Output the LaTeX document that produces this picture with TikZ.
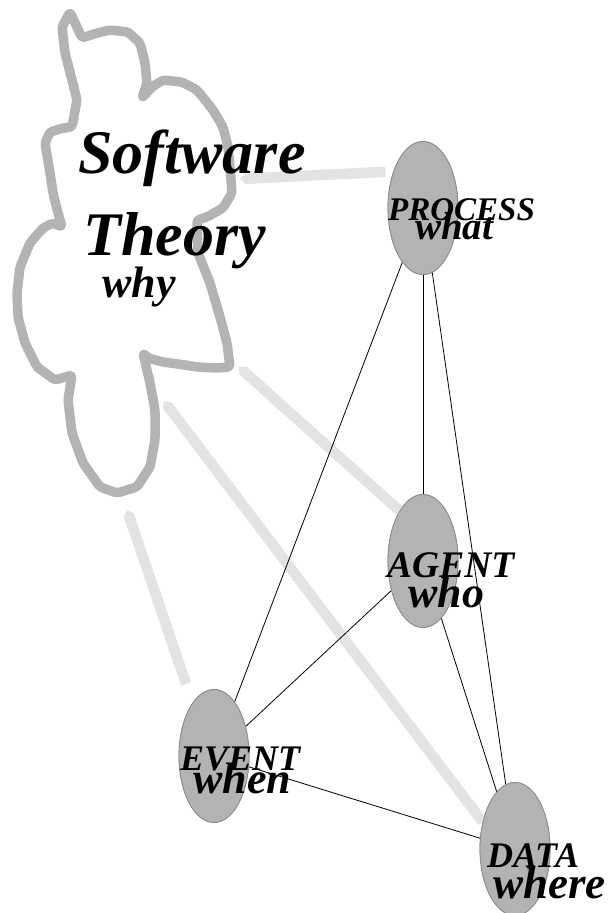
\documentclass[tikz,border=0pt]{standalone}
\usepackage{fontspec}
\setmainfont{Liberation Serif}
\usetikzlibrary{shapes.geometric,arrows.meta}
\definecolor{cloudgray}{HTML}{B3B3B3}
\definecolor{linkgray}{HTML}{E3E3E3}
\definecolor{ellfill}{HTML}{B3B3B3}
\definecolor{ellline}{HTML}{8C8C8C}
\tikzset{
  lbl/.style={inner sep=0pt, anchor=base west, font=\bfseries\itshape\fontsize{#1}{#1}\selectfont},
  ell/.style={ellipse, draw=ellline, line width=0.8pt, fill=ellfill, inner sep=0pt, minimum width=70pt, minimum height=133pt},
  link/.style={draw=black, line width=0.8pt},
  glink/.style={draw=linkgray, line width=10.5pt, {Triangle Cap[]}-},
  cloudline/.style={draw=cloudgray, line width=9.5pt, line join=round, rounded corners=3pt}
}
\begin{document}
\begin{tikzpicture}[x=1pt,y=-1pt]
\useasboundingbox (0,0) rectangle (609,913);
% ellipse nodes
\node[ell] (process) at (423,208) {};
\node[ell] (agent) at (423,561) {};
\node[ell] (event) at (214,756) {};
\node[ell] (data) at (515,849) {};
% cloud-side ends of gray links
\coordinate (g1) at (240,179);
\coordinate (g2) at (239,367);
\coordinate (g3) at (164,401);
\coordinate (g4) at (127,510);
% gray links
\draw[glink, shorten >=8pt] (g1) -- (process.129);
\draw[glink] (g2) -- (agent.115);
\draw[glink] (g3) -- (data.140);
\draw[glink, shorten >=20pt] (g4) -- (event.112);
% black links
\draw[link] (process) -- (event);
\draw[link] (process) -- (agent);
\draw[link] (process) -- (data);
\draw[link] (agent) -- (event);
\draw[link] (agent) -- (data);
\draw[link] (event) -- (data);
% redraw ellipses on top
\node[ell] at (423,208) {};
\node[ell] at (423,561) {};
\node[ell] at (214,756) {};
\node[ell] at (515,849) {};
% cloud
\draw[cloudline] (70,12) -- (82,38) -- (97,33) -- (110,30) -- (128,32) -- (140,43) -- (145,63) -- (147,83) -- (142,98)
  -- (152,87) -- (163,80) -- (182,82) -- (197,90) -- (213,110) -- (223,127) -- (228,147) -- (230,167) -- (232,193)
  -- (223,208) -- (207,217) -- (197,220) -- (198,253) -- (210,283) -- (220,317) -- (227,343) -- (230,367)
  -- (217,368) -- (197,367) -- (185,365) -- (163,362) -- (148,358) -- (143,353)
  -- (150,383) -- (155,410) -- (155,440) -- (150,467) -- (137,487) -- (117,493) -- (100,487) -- (83,463)
  -- (72,433) -- (68,400) -- (72,375)
  -- (55,380) -- (37,367) -- (25,343) -- (18,317) -- (17,293) -- (20,267) -- (30,243) -- (43,228) -- (53,223) -- (62,227)
  -- (58,213) -- (53,193) -- (50,173) -- (45,143) -- (50,132) -- (63,128) -- (72,127) -- (77,100) -- (72,80)
  -- (65,53) -- (62,27) -- cycle;
% cloud text
\node[lbl=62] (tsoft) at (78,173) {Software};
\node[lbl=62] (ttheory) at (83,255) {Theory};
\node[lbl=44] (twhy) at (102,297) {why};
% ellipse labels
\node[lbl=33] (tprocess) at (388,220) {PROCESS};
\node[lbl=39] (twhat) at (415,239) {what};
\node[lbl=37.5] (tagent) at (387,577) {AGENT};
\node[lbl=44] (twho) at (408,607) {who};
\node[lbl=36] (tevent) at (180,770) {EVENT};
\node[lbl=44] (twhen) at (193,793) {when};
\node[lbl=36] (tdata) at (487,867) {DATA};
\node[lbl=45] (twhere) at (493,898) {where};
\end{tikzpicture}
\end{document}
